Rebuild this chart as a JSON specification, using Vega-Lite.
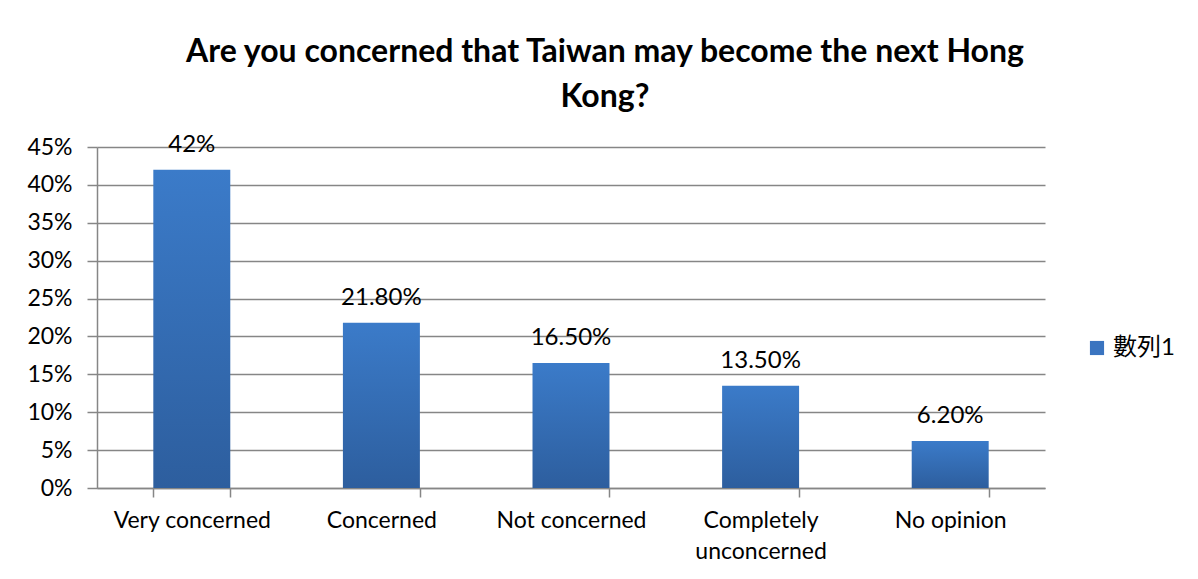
{
  "$schema": "https://vega.github.io/schema/vega-lite/v6.json",
  "width": 948,
  "height": 341,
  "autosize": {"type": "none"},
  "padding": {"left": 97, "top": 147, "right": 153, "bottom": 91},
  "background": "white",
  "title": {
    "text": ["Are you concerned that Taiwan may become the next Hong", "Kong?"],
    "font": "Lato",
    "fontSize": 32,
    "fontWeight": "bold",
    "color": "#000000",
    "anchor": "middle",
    "frame": "group",
    "dx": 34,
    "lineHeight": 45,
    "offset": 19
  },
  "data": {
    "values": [
      {"category": "Very concerned", "value": 0.42, "label": "42%", "series": "數列1"},
      {"category": "Concerned", "value": 0.218, "label": "21.80%", "series": "數列1"},
      {"category": "Not concerned", "value": 0.165, "label": "16.50%", "series": "數列1"},
      {"category": "Completely unconcerned", "value": 0.135, "label": "13.50%", "series": "數列1"},
      {"category": "No opinion", "value": 0.062, "label": "6.20%", "series": "數列1"}
    ]
  },
  "encoding": {
    "x": {
      "field": "category",
      "type": "nominal",
      "sort": null,
      "title": null,
      "scale": {"paddingInner": 0.594, "paddingOuter": 0.297},
      "axis": {
        "tickBand": "extent",
        "labelAngle": 0,
        "labelFont": "Lato",
        "labelFontSize": 23,
        "labelColor": "#000000",
        "labelPadding": 12,
        "labelLineHeight": 31,
        "labelExpr": "datum.label == 'Completely unconcerned' ? ['Completely', 'unconcerned'] : datum.label",
        "tickSize": 9,
        "tickColor": "#868686",
        "domainColor": "#868686",
        "tickWidth": 1.5,
        "domainWidth": 1.5,
        "grid": false
      }
    },
    "y": {
      "field": "value",
      "type": "quantitative",
      "title": null,
      "scale": {"domain": [0, 0.45], "nice": false},
      "axis": {
        "values": [0, 0.05, 0.1, 0.15, 0.2, 0.25, 0.3, 0.35, 0.4, 0.45],
        "format": ".0%",
        "labelFont": "Lato",
        "labelFontSize": 23,
        "labelColor": "#000000",
        "labelPadding": 15,
        "tickSize": 10,
        "tickColor": "#868686",
        "tickWidth": 1.5,
        "domainColor": "#868686",
        "domainWidth": 1.5,
        "gridColor": "#868686",
        "gridWidth": 1.5
      }
    }
  },
  "layer": [
    {
      "mark": {
        "type": "bar",
        "fill": {
          "gradient": "linear",
          "x1": 0, "y1": 0, "x2": 0, "y2": 1,
          "stops": [
            {"offset": 0, "color": "#3b7bc9"},
            {"offset": 1, "color": "#2d5e9e"}
          ]
        }
      }
    },
    {
      "mark": {"type": "bar", "opacity": 0},
      "encoding": {
        "color": {
          "field": "series",
          "type": "nominal",
          "scale": {"range": ["#3a74c0"]},
          "legend": {
            "title": null,
            "orient": "none",
            "legendX": 988,
            "legendY": 189,
            "symbolType": "square",
            "symbolSize": 200,
            "symbolOpacity": 1,
            "symbolStrokeWidth": 0,
            "labelFont": "Lato, Noto Sans CJK TC",
            "labelFontSize": 24,
            "labelColor": "#000000",
            "labelOffset": 4
          }
        }
      }
    },
    {
      "mark": {
        "type": "text",
        "baseline": "alphabetic",
        "dy": -18,
        "font": "Lato",
        "fontSize": 24,
        "color": "#000000"
      },
      "encoding": {"text": {"field": "label"}}
    }
  ],
  "config": {
    "view": {"stroke": null}
  }
}
